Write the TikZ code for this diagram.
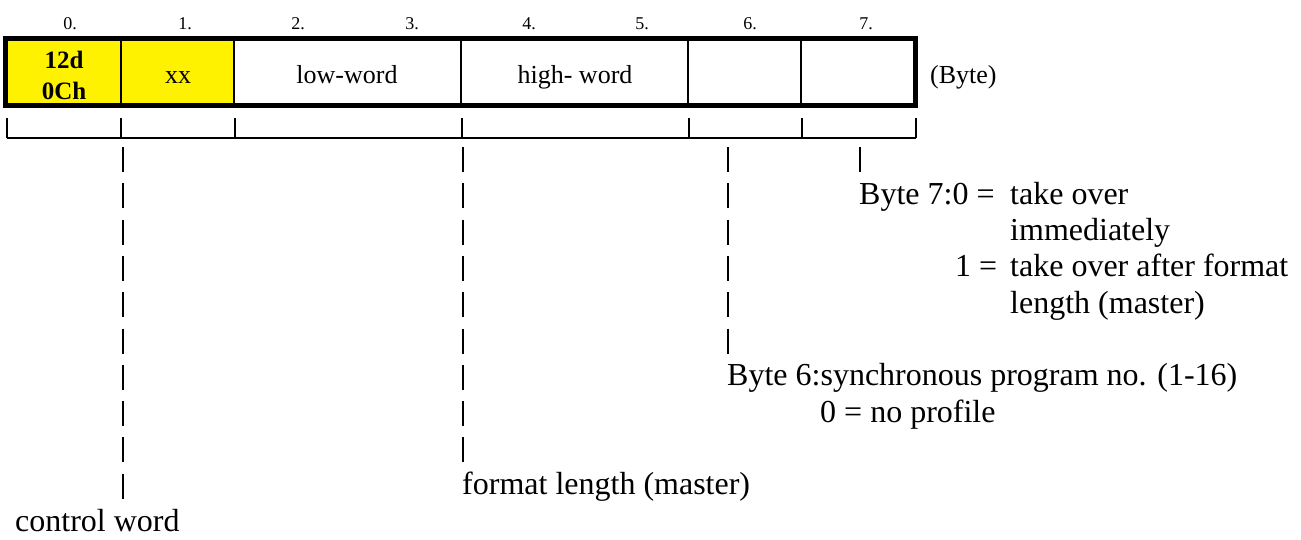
\documentclass[tikz,border=0pt]{standalone}
\usepackage{fontspec}
\setmainfont{Liberation Serif}
\begin{document}
\begin{tikzpicture}[x=1pt,y=-1pt,
  cell/.style={draw,line width=2.5pt,inner sep=0pt,minimum height=64pt},
  ycell/.style={cell,fill=yellow},
  celltxt/.style={anchor=base,inner sep=0pt,font=\fontsize{26}{30}\selectfont},
  boldtxt/.style={anchor=base,inner sep=0pt,font=\fontsize{25}{30}\selectfont\bfseries},
  bytenum/.style={anchor=base,inner sep=0pt,font=\fontsize{18}{20}\selectfont},
  lbl/.style={anchor=base west,inner sep=0pt,font=\fontsize{32}{36}\selectfont},
  brk/.style={line width=2.7pt},
  pipe/.style={line width=1.3pt,dash pattern=on 25pt off 11.3pt}]
\useasboundingbox (0,0) rectangle (1301,539);
% cells
\node[ycell,minimum width=114pt] (c0) at (64,72) {};
\node[ycell,minimum width=113pt] (c1) at (177.5,72) {};
\node[cell,minimum width=227pt] (c23) at (347.5,72) {};
\node[cell,minimum width=227pt] (c45) at (574.5,72) {};
\node[cell,minimum width=113pt] (c6) at (744.5,72) {};
\node[cell,minimum width=113pt] (c7) at (857.5,72) {};
\draw[line width=5pt] (c0.north west) rectangle (c7.south east);
% cell texts
\node[boldtxt] (t12d) at (64,68) {12d};
\node[boldtxt] (t0ch) at (64,99) {0Ch};
\node[celltxt] (txx) at (178,83) {xx};
\node[celltxt] (tlow) at (347,83) {low-word};
\node[celltxt] (thigh) at (575,83) {high- word};
\node[anchor=base west,inner sep=0pt,font=\fontsize{26}{30}\selectfont] (tbyte) at (930,83) {(Byte)};
% byte numbers
\node[bytenum] (n0) at (70,29) {0.};
\node[bytenum] (n1) at (185,29) {1.};
\node[bytenum] (n2) at (298,29) {2.};
\node[bytenum] (n3) at (412,29) {3.};
\node[bytenum] (n4) at (529,29) {4.};
\node[bytenum] (n5) at (642,29) {5.};
\node[bytenum] (n6) at (750,29) {6.};
\node[bytenum] (n7) at (866,29) {7.};
% bracket
\coordinate (b0) at (7,118);
\coordinate (b1) at (121,118);
\coordinate (b2) at (235,118);
\coordinate (b3) at (462,118);
\coordinate (b4) at (689,118);
\coordinate (b5) at (802,118);
\coordinate (b6) at (916,118);
\draw[brk] (7,138) -- (916,138);
\foreach \b in {b0,b1,b2,b3,b4,b5,b6}{\draw[brk] (\b) -- ++(0,20);}
% labels
\node[lbl] (cw) at (15,531) {control word};
\node[lbl] (fl) at (462,494.7) {format length (master)};
\node[lbl] (b6t) at (727,385.8) {Byte 6:synchronous program no. (1-16)};
\node[lbl] (b6z) at (820,422.1) {0 = no profile};
\node[lbl] (b7t) at (859,204.3) {Byte 7:0 =};
\node[lbl] (b7a) at (1010,204.3) {take over};
\node[lbl] (b7b) at (1010,240.6) {immediately};
\node[lbl] (b7o) at (955,276.9) {1 =};
\node[lbl] (b7c) at (1010,276.9) {take over after format};
\node[lbl] (b7d) at (1010,313.2) {length (master)};
% pipes
\coordinate (p1) at (123,147);
\coordinate (p2) at (463,147);
\coordinate (p3) at (728,147);
\coordinate (p4) at (860,147);
\draw[pipe] (p1) -- ++(0,351.7);
\draw[pipe] (p2) -- ++(0,315.4);
\draw[pipe] (p3) -- ++(0,206.5);
\draw[pipe] (p4) -- ++(0,25);
\end{tikzpicture}
\end{document}
